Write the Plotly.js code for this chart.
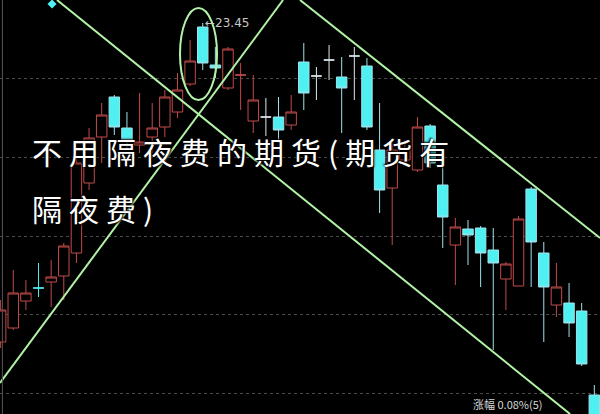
<!DOCTYPE html>
<html>
<head>
<meta charset="utf-8">
<script src="https://cdn.plot.ly/plotly-3.0.1.min.js"></script>
<style>html,body{margin:0;padding:0;background:#000;}#chart{width:600px;height:414px;}</style>
</head>
<body>
<div id="chart"></div>
<script>
// ---- data ----
const openP  = [17.07,17.35,17.89,18.15,18.27,18.39,18.85,20.25,21.17,21.97,21.35,21.01,21.17,21.37,21.67,22.23,23.37,22.61,22.15,22.41,21.49,21.57,21.57,21.41,22.67,22.39,22.71,22.37,22.79,22.59,20.91,20.15,20.71,20.51,21.39,20.21,19.01,19.33,19.35,18.91,18.33,18.19,20.13,18.85,17.81,17.85,17.69,16.01];
const highP  = [17.91,18.51,18.31,18.65,18.71,19.05,20.77,21.35,21.85,22.01,21.67,22.05,21.85,22.11,22.45,23.11,23.45,22.97,22.97,22.65,22.41,21.95,21.97,22.01,23.05,22.57,23.01,22.77,22.97,22.75,21.85,21.11,21.11,21.57,21.43,20.77,19.55,19.51,19.39,19.35,18.67,19.59,20.17,19.07,18.65,18.25,17.85,16.21];
const lowP   = [16.95,17.31,17.71,17.97,17.77,17.91,18.65,20.11,20.65,21.21,20.91,20.85,20.85,21.17,21.55,22.19,22.51,22.35,22.11,21.71,21.25,21.19,21.05,21.31,21.71,21.91,22.31,21.25,21.91,21.31,19.65,19.01,20.59,20.47,20.55,18.95,18.21,18.61,18.17,16.91,17.71,18.19,18.17,17.07,17.57,17.17,16.59,15.31];
const closeP = [17.71,18.05,18.05,18.15,18.37,18.99,20.65,21.15,21.61,21.37,21.11,21.07,21.35,21.97,22.11,22.69,22.65,22.55,22.93,22.41,21.91,21.57,21.31,21.67,22.05,22.39,22.71,22.15,22.79,21.37,20.11,20.91,20.95,21.37,20.65,19.57,19.37,19.21,18.85,18.65,18.63,19.53,19.07,18.17,18.17,17.45,16.63,15.41];
const peakLabel = '←23.45';
const peakIndex = 16;
const gridPrices = [22.35, 20.77, 19.19, 17.63, 16.05];
// trend lines (index, price)
const lineA_x = [4.46, 45.08],  lineA_y = [23.91, 15.63];
const lineB_x = [-0.05, 22.36], lineB_y = [16.25, 23.91];
const lineC_x = [23.70, 47.45], lineC_y = [23.91, 19.15];
const ringX = [14.20, 17.13], ringY = [21.91, 23.75];
const titleLine1 = '不用隔夜费的期货(期货有';
const titleLine2 = '隔夜费)';
const footText = '涨幅 0.08%(5)';

// ---- build ----
const idx = openP.map((_, i) => i);
const whiteCross = [21, 25, 26, 28];
const redCross = [19];
const cyanCross = [3];
function pick(list) {
  return {x: list, open: list.map(i => openP[i]), high: list.map(i => highP[i]),
          low: list.map(i => lowP[i]), close: list.map(i => closeP[i])};
}
const mainIdx = idx.filter(i => openP[i] !== closeP[i]);
const RED = '#c24a4a', CYAN = '#4ff0f2', CYANLINE = '#9fe3ec', GREEN = '#b2f2a6';
function candle(sel, incCol, incFill, decCol, decFill) {
  const d = pick(sel);
  return Object.assign(d, {type: 'candlestick', hoverinfo: 'skip', whiskerwidth: 0,
    increasing: {line: {color: incCol, width: 1}, fillcolor: incFill},
    decreasing: {line: {color: decCol, width: 1}, fillcolor: decFill},
    showlegend: false});
}
const traces = [
  candle(mainIdx, RED, '#000000', CYANLINE, CYAN),
  candle(cyanCross, CYAN, CYAN, CYAN, CYAN),
  candle(redCross, RED, RED, RED, RED),
  candle(whiteCross, '#dfe8ee', '#dfe8ee', '#dfe8ee', '#dfe8ee'),
  {type: 'scatter', mode: 'lines', x: lineA_x, y: lineA_y, line: {color: GREEN, width: 2}, hoverinfo: 'skip', showlegend: false},
  {type: 'scatter', mode: 'lines', x: lineB_x, y: lineB_y, line: {color: GREEN, width: 2}, hoverinfo: 'skip', showlegend: false},
  {type: 'scatter', mode: 'lines', x: lineC_x, y: lineC_y, line: {color: GREEN, width: 2}, hoverinfo: 'skip', showlegend: false},
  {type: 'scatter', mode: 'markers', x: [4.07], y: [23.83], marker: {symbol: 'diamond', size: 7, color: '#4ff0f2'}, hoverinfo: 'skip', showlegend: false}
];
const titleFont = {family: 'Noto Sans CJK SC', size: 30, color: '#ffffff', shadow: '1px 1px 2px #000, -1px -1px 2px #000'};
const layout = {
  width: 600, height: 414,
  margin: {l: 0, r: 0, t: 0, b: 0},
  paper_bgcolor: '#000', plot_bgcolor: '#000',
  boxgap: 0.1, boxgroupgap: 0.08,
  xaxis: {range: [-0.05, 47.45], showgrid: false, zeroline: false, showticklabels: false, ticks: '', rangeslider: {visible: false}, fixedrange: true},
  yaxis: {range: [15.63, 23.91], tickvals: gridPrices, showgrid: true, gridcolor: '#4a4a4a', griddash: 'dot', gridwidth: 1,
          zeroline: false, showticklabels: false, ticks: '', fixedrange: true},
  shapes: [
    {type: 'circle', xref: 'x', yref: 'y', x0: ringX[0], x1: ringX[1], y0: ringY[0], y1: ringY[1], line: {color: GREEN, width: 2}},
    {type: 'line', xref: 'paper', yref: 'paper', x0: 0.004, x1: 0.004, y0: 0, y1: 1, line: {color: '#555', width: 1}}
  ],
  annotations: [
    {x: peakIndex, y: highP[peakIndex], xref: 'x', yref: 'y', text: peakLabel, showarrow: false, xanchor: 'left', yanchor: 'middle',
     font: {family: 'DejaVu Sans, Arial', size: 12, color: '#c8c8c8'}},
    {x: 0.05, y: 0.635, xref: 'paper', yref: 'paper', text: titleLine1, showarrow: false, xanchor: 'left', yanchor: 'middle', font: titleFont},
    {x: 0.05, y: 0.497, xref: 'paper', yref: 'paper', text: titleLine2, showarrow: false, xanchor: 'left', yanchor: 'middle', font: titleFont},
    {x: 0.785, y: 0.0, xref: 'paper', yref: 'paper', text: footText, showarrow: false, xanchor: 'left', yanchor: 'bottom',
     font: {family: 'Noto Sans CJK SC', size: 11, color: '#d8d8d8'}}
  ]
};
Plotly.newPlot('chart', traces, layout, {displayModeBar: false, staticPlot: true}).then(function () {
  document.querySelectorAll('#chart .annotation-text').forEach(function (t) {
    if (t.textContent === titleLine1 || t.textContent === titleLine2) {
      const before = t.getBBox().x;
      t.style.letterSpacing = '7px';
      const after = t.getBBox().x;
      t.setAttribute('transform', 'translate(' + (before - after) + ',0)');
    }
  });
});
</script>
</body>
</html>
